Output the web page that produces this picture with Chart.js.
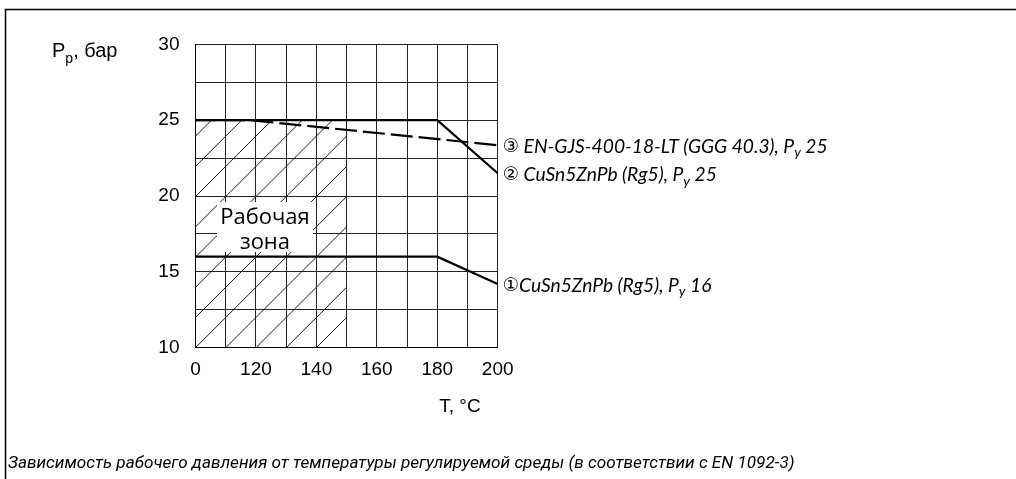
<!DOCTYPE html>
<html><head><meta charset="utf-8">
<script src="https://cdn.jsdelivr.net/npm/chart.js@4"></script>
<style>html,body{margin:0;padding:0;background:#fff;overflow:hidden}canvas{display:block}</style>
</head><body>
<canvas id="c" width="1016" height="479"></canvas>
<script>
// ---- data ----
// The temperature axis is broken: its left edge is labelled "0", the rest runs 100..200 °C.
const xTickValues = [100, 120, 140, 160, 180, 200];
const xTickLabels = ['0', '120', '140', '160', '180', '200'];
const yTickLabels = [10, 15, 20, 25, 30];

const s1T = [0, 180, 200];          // ① CuSn5ZnPb (Rg5), Py 16
const s1P = [16, 16, 14.2];
const s2T = [0, 180, 200];          // ② CuSn5ZnPb (Rg5), Py 25
const s2P = [25, 25, 21.5];
const s3T = [0, 118, 200];          // ③ EN-GJS-400-18-LT (GGG 40.3), Py 25
const s3P = [25, 25, 23.35];
const zoneT = [0, 150];             // working zone (hatched)
const zoneP = [10, 25];

const seriesLabels = [
  [['①', 'c'], ['CuSn5ZnPb (Rg5), P', 'i'], ['y', 's'], [' 16', 'i']],
  [['②', 'c'], [' CuSn5ZnPb (Rg5), P', 'i'], ['y', 's'], [' 25', 'i']],
  [['③', 'c'], [' EN-GJS-400-18-LT (GGG 40.3), P', 'i'], ['y', 's'], [' 25', 'i']]
];
const zoneLabel = ['Рабочая', 'зона'];
const yTitle = [['P', 'n'], ['p', 'sn'], [', бар', 'n']];
const xTitle = 'T, °C';
const caption = 'Зависимость рабочего давления от температуры регулируемой среды (в соответствии с EN 1092-3)';

// ---- helpers ----
const axisPos = t => (t === 0 ? 100 : t);   // axis break: 0 sits at the left edge
const toXY = (T, P) => T.map((t, i) => ({ x: axisPos(t), y: P[i] }));

const TICK_FONT = { family: "'Liberation Sans', Arial, sans-serif", size: 19 };
const LBL = "Lato, Roboto, sans-serif";
const CAP = "Roboto, 'Noto Sans', sans-serif";

function drawRich(ctx, x, y, parts, size, family, measureOnly) {
  let cx = x;
  for (const [txt, st] of parts) {
    let f, dy = 0;
    if (st === 'i') f = `italic ${size}px ${family}`;
    else if (st === 'n') f = `${size}px ${family}`;
    else if (st === 'c') f = `${size * 0.95}px 'DejaVu Sans', 'Noto Sans CJK JP', sans-serif`;
    else if (st === 'sn') { f = `${Math.round(size * 0.72)}px ${family}`; dy = size * 0.3; }
    else { f = `italic ${Math.round(size * 0.72)}px ${family}`; dy = size * 0.3; }
    ctx.font = f;
    if (!measureOnly) ctx.fillText(txt, cx, y + dy);
    cx += ctx.measureText(txt).width;
  }
  return cx - x;
}

const zonePlugin = {
  id: 'zone',
  beforeDatasetsDraw(chart) {
    const { ctx, scales: { x, y } } = chart;
    const x0 = x.getPixelForValue(axisPos(zoneT[0])), x1 = x.getPixelForValue(axisPos(zoneT[1]));
    const yb = y.getPixelForValue(zoneP[0]), yt = y.getPixelForValue(zoneP[1]);
    const step = x.getPixelForValue(110) - x.getPixelForValue(100);
    const h = yb - yt;
    ctx.save();
    ctx.beginPath(); ctx.rect(x0, yt, x1 - x0, h); ctx.clip();
    ctx.strokeStyle = '#1a1a1a'; ctx.lineWidth = 1;
    ctx.beginPath();
    for (let k = -Math.ceil(h / step) - 1; k * step <= x1 - x0; k++) {
      const sx = x0 + k * step;
      ctx.moveTo(sx, yb); ctx.lineTo(sx + h, yt);
    }
    ctx.stroke();
    ctx.restore();
  },
  afterDatasetsDraw(chart) {
    const { ctx, chartArea: ca, scales: { x, y } } = chart;
    ctx.save();
    // label box for working zone
    ctx.fillStyle = '#fff';
    ctx.fillRect(217, 202, 96, 50);
    ctx.fillStyle = '#000';
    ctx.font = "22px 'Open Sans', sans-serif";
    ctx.textAlign = 'center'; ctx.textBaseline = 'alphabetic';
    ctx.fillText(zoneLabel[0], 265, 224);
    ctx.fillText(zoneLabel[1], 265, 249);
    // series labels at line ends (font sized so the longest label spans like the original)
    ctx.textAlign = 'left'; ctx.textBaseline = 'middle';
    const w20 = drawRich(ctx, 0, 0, seriesLabels[2], 20, LBL, true);
    const size = 20 * 325 / w20;
    const ends = [s1P, s2P, s3P];
    ends.forEach((P, i) => {
      const py = y.getPixelForValue(P[P.length - 1]);
      drawRich(ctx, ca.right + 5, py + 2, seriesLabels[i], size, LBL);
    });
    ctx.restore();
  },
  afterDraw(chart) {
    const { ctx } = chart;
    ctx.save();
    ctx.fillStyle = '#000';
    ctx.textBaseline = 'alphabetic'; ctx.textAlign = 'left';
    drawRich(ctx, 52, 57, yTitle, 20, "'Liberation Sans', Arial, sans-serif");
    ctx.font = "19px 'Liberation Sans', Arial, sans-serif";
    ctx.textAlign = 'center';
    ctx.fillText(xTitle, 460, 412);
    ctx.textAlign = 'left';
    ctx.font = `italic 20px ${CAP}`;
    const cs = 20 * 787 / ctx.measureText(caption).width;
    ctx.font = `italic ${cs}px ${CAP}`;
    ctx.fillText(caption, 8, 468);
    // frame
    ctx.strokeStyle = '#000';
    ctx.lineWidth = 1.5;
    ctx.beginPath();
    ctx.moveTo(5.5, 479); ctx.lineTo(5.5, 9.5); ctx.lineTo(1016, 9.5);
    ctx.stroke();
    ctx.restore();
  }
};

const lineDs = (T, P, dash) => ({
  data: toXY(T, P), borderColor: '#000', borderWidth: 2.2, pointRadius: 0,
  tension: 0, fill: false, borderDash: dash || [], borderCapStyle: 'butt', clip: 4
});

new Chart(document.getElementById('c'), {
  type: 'line',
  data: { datasets: [lineDs(s1T, s1P), lineDs(s2T, s2P), lineDs(s3T, s3P, [22, 6])] },
  options: {
    responsive: false, animation: false, devicePixelRatio: 1,
    layout: { padding: { left: 0, top: 44.3, right: 1016 - 497.7, bottom: 0 } },
    plugins: { legend: { display: false }, tooltip: { enabled: false } },
    scales: {
      x: {
        type: 'linear', min: 100, max: 200,
        ticks: {
          stepSize: 10, autoSkip: false, maxRotation: 0, padding: 11, color: '#000', font: TICK_FONT,
          callback: v => { const i = xTickValues.indexOf(v); return i >= 0 ? xTickLabels[i] : ''; }
        },
        grid: { color: '#222', lineWidth: 1, drawTicks: false },
        border: { color: '#000', width: 1 },
        afterFit: s => { s.height = 479 - 347.7; s.paddingLeft = 0; s.paddingRight = 0; }
      },
      y: {
        min: 10, max: 30,
        ticks: {
          stepSize: 2.5, padding: 16, color: '#000', font: TICK_FONT,
          callback: v => (yTickLabels.includes(v) ? String(v) : '')
        },
        grid: { color: '#222', lineWidth: 1, drawTicks: false },
        border: { color: '#000', width: 1 },
        afterFit: s => { s.width = 195.5; s.paddingTop = 0; s.paddingBottom = 0; }
      }
    }
  },
  plugins: [zonePlugin]
});
</script>
</body></html>
